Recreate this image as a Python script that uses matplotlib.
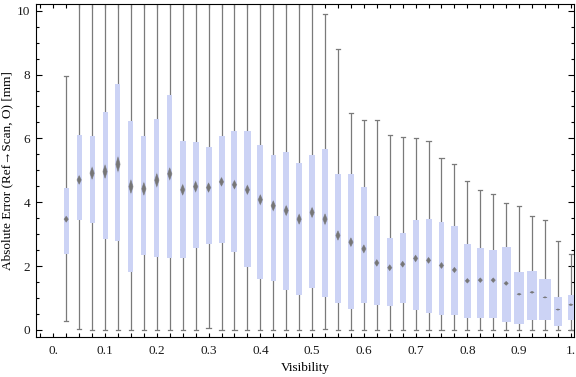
import numpy as np
import matplotlib.pyplot as plt
from matplotlib.ticker import MultipleLocator, FuncFormatter

# box-whisker per visibility bin
visibility = np.arange(1, 41) * 0.025
w_low = [0.27, 0.02, 0, 0, 0, 0, 0, 0, 0, 0,
         0, 0.05, 0, 0, 0, 0, 0, 0, 0, 0,
         0.02, 0, 0, 0, 0, 0, 0, 0, 0, 0,
         0, 0, 0, 0, 0, 0, 0, 0, 0, 0]
q1 = [2.38, 3.43, 3.36, 2.86, 2.80, 1.83, 2.35, 2.29, 2.24, 2.24,
      2.57, 2.70, 2.73, 2.45, 1.97, 1.61, 1.52, 1.26, 1.10, 1.30,
      1.04, 0.86, 0.67, 0.86, 0.79, 0.76, 0.86, 0.64, 0.54, 0.48,
      0.48, 0.39, 0.36, 0.39, 0.26, 0.20, 0.32, 0.32, 0.14, 0.32]
median = [3.47, 4.70, 4.91, 4.96, 5.19, 4.49, 4.42, 4.69, 4.89, 4.39,
          4.49, 4.46, 4.64, 4.55, 4.39, 4.08, 3.89, 3.74, 3.47, 3.68,
          3.47, 2.96, 2.75, 2.54, 2.10, 1.95, 2.06, 2.24, 2.18, 2.02,
          1.88, 1.54, 1.56, 1.56, 1.46, 1.12, 1.18, 1.02, 0.64, 0.79]
q3 = [4.44, 6.11, 6.08, 6.83, 7.70, 6.55, 6.07, 6.61, 7.37, 5.92,
      5.88, 5.74, 6.08, 6.24, 6.24, 5.79, 5.49, 5.58, 5.22, 5.49,
      5.67, 4.89, 4.89, 4.48, 3.57, 2.88, 3.04, 3.45, 3.48, 3.39,
      3.26, 2.70, 2.57, 2.51, 2.60, 1.82, 1.85, 1.60, 1.03, 1.10]
# whiskers marked 11 run off the top of the plot
w_high = [7.97, 11, 11, 11, 11, 11, 11, 11, 11, 11,
          11, 11, 11, 11, 11, 11, 11, 11, 11, 11,
          9.90, 8.80, 6.79, 6.58, 6.58, 6.10, 6.05, 6.01, 5.91, 5.38,
          5.19, 4.66, 4.38, 4.25, 3.97, 3.87, 3.58, 3.44, 2.79, 2.38]
# half-height of the median diamond (notch)
notch = [0.09, 0.13, 0.18, 0.20, 0.22, 0.20, 0.19, 0.20, 0.18, 0.16,
         0.16, 0.14, 0.13, 0.13, 0.14, 0.15, 0.15, 0.15, 0.15, 0.15,
         0.16, 0.14, 0.13, 0.12, 0.10, 0.09, 0.09, 0.10, 0.09, 0.09,
         0.08, 0.07, 0.07, 0.07, 0.06, 0.03, 0.03, 0.02, 0.02, 0.03]
# box widths vary from bin to bin (in visibility units)
box_w = [0.0097, 0.0097, 0.0097, 0.0097, 0.0097, 0.0097, 0.0097, 0.0097, 0.0106, 0.0116,
         0.0116, 0.0116, 0.0116, 0.0116, 0.0126, 0.0116, 0.0106, 0.0116, 0.0116, 0.0116,
         0.0116, 0.0116, 0.0116, 0.0116, 0.0116, 0.0116, 0.0120, 0.0116, 0.0116, 0.0112,
         0.0135, 0.0141, 0.0141, 0.0155, 0.0174, 0.0193, 0.0193, 0.0213, 0.0155, 0.0116]

C_BOX, C_WHISK, C_MED, INK = "#ccd3f5", "#7a7a7a", "#767676", "#1a1a1a"
plt.rcParams.update({
    "font.family": ["Liberation Serif", "DejaVu Serif"], "font.size": 9.5,
    "text.color": INK, "axes.edgecolor": "black", "axes.linewidth": 0.8,
    "xtick.color": "black", "ytick.color": "black",
    "xtick.labelcolor": INK, "ytick.labelcolor": INK,
})

fig = plt.figure(figsize=(5.76, 3.77), dpi=100)
ax = fig.add_axes([0.0625, 0.1061, 0.934, 0.8833])

for x, lo, a, md, b, hi, n, w in zip(visibility, w_low, q1, median, q3, w_high, notch, box_w):
    ax.plot([x, x], [lo, hi], color=C_WHISK, lw=0.9, zorder=2, solid_capstyle="butt")
    for yc in (lo, hi):
        ax.plot([x - 0.004, x + 0.004], [yc, yc], color=C_WHISK, lw=0.9, zorder=2)
    ax.bar(x, b - a, bottom=a, width=w, color=C_BOX, lw=0, zorder=3)
    hw = 0.0038
    # soft halo + core, mimics the blurred diamond marker
    ax.fill([x - hw * 1.4, x, x + hw * 1.4, x], [md, md + n * 1.25, md, md - n * 1.25],
            color=C_MED, alpha=0.35, lw=0, zorder=4)
    ax.fill([x - hw, x, x + hw, x], [md, md + n, md, md - n], color=C_MED,
            lw=0.3, ec=C_MED, zorder=5)

ax.set_xlim(-0.0334, 1.006)
ax.set_ylim(-0.22, 10.21)
ax.xaxis.set_major_locator(MultipleLocator(0.1))
ax.xaxis.set_minor_locator(MultipleLocator(0.025))
ax.xaxis.set_major_formatter(FuncFormatter(
    lambda v, p: "0." if abs(v) < 1e-9 else ("1." if abs(v - 1) < 1e-9 else f"{v:.1f}")))
ax.yaxis.set_major_locator(MultipleLocator(2))
ax.yaxis.set_minor_locator(MultipleLocator(0.5))
ax.tick_params(which="both", direction="in", top=True, right=True, width=0.8)
ax.tick_params(axis="x", which="both", length=3)
ax.tick_params(axis="y", which="major", length=4)
ax.tick_params(axis="y", which="minor", length=2.2)
ax.tick_params(axis="x", pad=6)
ax.tick_params(axis="y", pad=4)

ax.set_xlabel("Visibility", labelpad=3)
ax.set_ylabel("Absolute Error (Ref\u2192Scan, O) [mm]", labelpad=3)

fig.savefig("out.png", dpi=100)
